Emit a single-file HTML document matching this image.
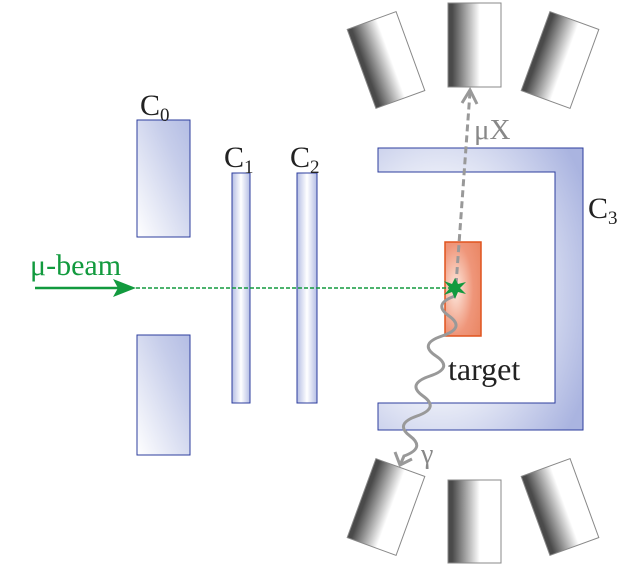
<!DOCTYPE html>
<html><head><meta charset="utf-8"><style>body{margin:0;background:#fff}svg{display:block}text{font-family:"Liberation Serif",serif}</style></head><body>
<svg width="627" height="566" viewBox="0 0 627 566">
<defs>
<linearGradient id="det" x1="0" y1="0" x2="1" y2="0"><stop offset="0.08" stop-color="#4a4a4a"/><stop offset="0.6" stop-color="#fff"/></linearGradient>
<linearGradient id="pl" x1="0" y1="1" x2="1" y2="0"><stop offset="0" stop-color="#fff"/><stop offset="0.7" stop-color="#c6cdea"/><stop offset="1" stop-color="#b4bde4"/></linearGradient>
<linearGradient id="pv" x1="0" y1="0" x2="1" y2="0"><stop offset="0" stop-color="#b4bde4"/><stop offset="0.5" stop-color="#fff"/><stop offset="1" stop-color="#b4bde4"/></linearGradient>
<radialGradient id="tg" cx="0.3" cy="0.5" r="0.8"><stop offset="0" stop-color="#fde9df"/><stop offset="0.6" stop-color="#ef967a"/><stop offset="1" stop-color="#ea8866"/></radialGradient>
<radialGradient id="c3" cx="0.3" cy="0.5" r="0.8"><stop offset="0.5" stop-color="#e9ecf7"/><stop offset="1" stop-color="#aab4e0"/></radialGradient>
</defs>
<g stroke="#888" stroke-width="1">
<rect x="-26" y="-42" width="52" height="84" fill="url(#det)" transform="translate(386,60) rotate(-20)"/>
<rect x="448" y="3" width="53" height="84" fill="url(#det)"/>
<rect x="-26" y="-42" width="52" height="84" fill="url(#det)" transform="translate(560,60) rotate(20)"/>
<rect x="-26" y="-42" width="52" height="84" fill="url(#det)" transform="translate(386,507) rotate(20)"/>
<rect x="448" y="480" width="53" height="83" fill="url(#det)"/>
<rect x="-26" y="-42" width="52" height="84" fill="url(#det)" transform="translate(560,507) rotate(-20)"/>
</g>
<g stroke="#2d3e9e" stroke-width="1">
<rect x="137" y="120" width="53" height="117" fill="url(#pl)"/>
<rect x="137" y="335" width="53" height="120" fill="url(#pl)"/>
<rect x="232" y="173" width="18" height="230" fill="url(#pv)"/>
<rect x="297" y="173" width="20" height="230" fill="url(#pv)"/>
<path d="M378,148 H583 V430 H378 V403 H555 V172 H378 Z" fill="url(#c3)"/>
</g>
<rect x="445" y="242" width="36" height="94" fill="url(#tg)" stroke="#e0541e" stroke-width="1.5"/>
<line x1="35" y1="288" x2="118" y2="288" stroke="#129a3e" stroke-width="2.5"/>
<path d="M136,288 L113,279 L118,288 L113,297 Z" fill="#129a3e"/>
<line x1="136" y1="288" x2="455" y2="288" stroke="#129a3e" stroke-width="1.5" stroke-dasharray="4,2"/>
<line x1="456" y1="285" x2="470" y2="92" stroke="#999" stroke-width="3" stroke-dasharray="7,4"/>
<path d="M462,103 L470,90 L477,104" fill="none" stroke="#999" stroke-width="3"/>
<path d="M455,296 Q432,304 449,316 T442,336 T436,356 T430,376 T423,396 T417,416 T410,436 T404,456 L401,463" fill="none" stroke="#999" stroke-width="3"/>
<path d="M395,452 L400,465 L412,459" fill="none" stroke="#999" stroke-width="3"/>
<path d="M455,278 L458,284 L466,282 L460,288 L466,294 L458,292 L455,299 L452,292 L444,295 L450,288 L444,281 L452,284 Z" fill="#129a3e"/>
<text x="140" y="115" font-size="30" fill="#222">C<tspan font-size="19" dy="6">0</tspan></text>
<text x="224" y="167" font-size="30" fill="#222">C<tspan font-size="19" dy="6">1</tspan></text>
<text x="290" y="167" font-size="30" fill="#222">C<tspan font-size="19" dy="6">2</tspan></text>
<text x="588" y="218" font-size="30" fill="#222">C<tspan font-size="19" dy="6">3</tspan></text>
<text x="30" y="275" font-size="30" fill="#129a3e">μ-beam</text>
<text x="474" y="139" font-size="29" fill="#888">μX</text>
<text x="448" y="380" font-size="32" fill="#222">target</text>
<text x="421" y="463" font-size="28" fill="#888">γ</text>
</svg>
</body></html>
